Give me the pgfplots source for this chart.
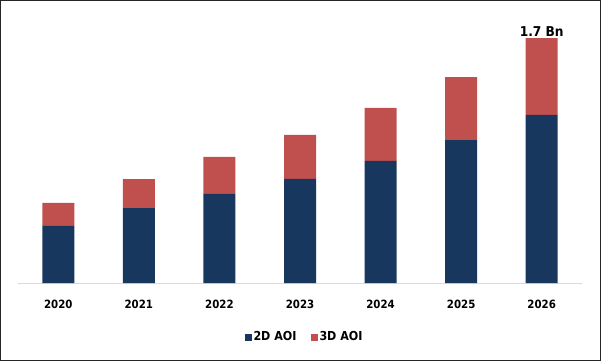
\documentclass[border=0pt]{standalone}
\usepackage{pgfplots}
\pgfplotsset{compat=1.18}
\usepackage{fontspec}
\setmainfont{DejaVu Sans Condensed}
\definecolor{navy}{HTML}{17375E}
\definecolor{brick}{HTML}{C0504D}
\definecolor{axgray}{HTML}{D9D9D9}
\begin{document}
\begin{tikzpicture}
\useasboundingbox (-18bp,-78bp) rectangle (583bp,283bp);
\draw[black!85, line width=1bp] (-17.5bp,-77.5bp) rectangle (582.5bp,282.5bp);
\begin{axis}[
  scale only axis,
  width=564bp, height=263bp,
  ybar stacked,
  bar width=32bp,
  xmin=-0.5, xmax=6.5,
  ymin=0, ymax=1.825,
  axis x line*=bottom,
  axis y line=none,
  x axis line style={axgray, line width=1bp, -},
  xtick={0,1,2,3,4,5,6},
  xticklabels={2020,2021,2022,2023,2024,2025,2026},
  major tick length=0pt,
  xticklabel style={font=\fontsize{11.4}{13}\selectfont\bfseries, anchor=base, yshift=-25bp, inner sep=0pt},
  legend style={at={(0.508,0)}, anchor=center, yshift=-54bp, draw=none, fill=none,
    font=\fontsize{12.4}{14}\selectfont\bfseries, legend columns=2,
    /tikz/every even column/.append style={column sep=12bp}},
  legend image code/.code={\fill[#1] (0bp,-3.5bp) rectangle (7bp,3.5bp);},
  clip=false,
]
\addplot[fill=navy, draw=none] coordinates {(0,0.396) (1,0.520) (2,0.618) (3,0.722) (4,0.847) (5,0.992) (6,1.166)};
\addplot[fill=brick, draw=none] coordinates {(0,0.160) (1,0.201) (2,0.257) (3,0.305) (4,0.368) (5,0.437) (6,0.534)};
\legend{2D AOI, 3D AOI}
\node[anchor=base, yshift=2bp, inner sep=0pt, font=\fontsize{13.6}{15}\selectfont\bfseries] at (axis cs:6,1.7) {1.7 Bn};
\end{axis}
\end{tikzpicture}
\end{document}
